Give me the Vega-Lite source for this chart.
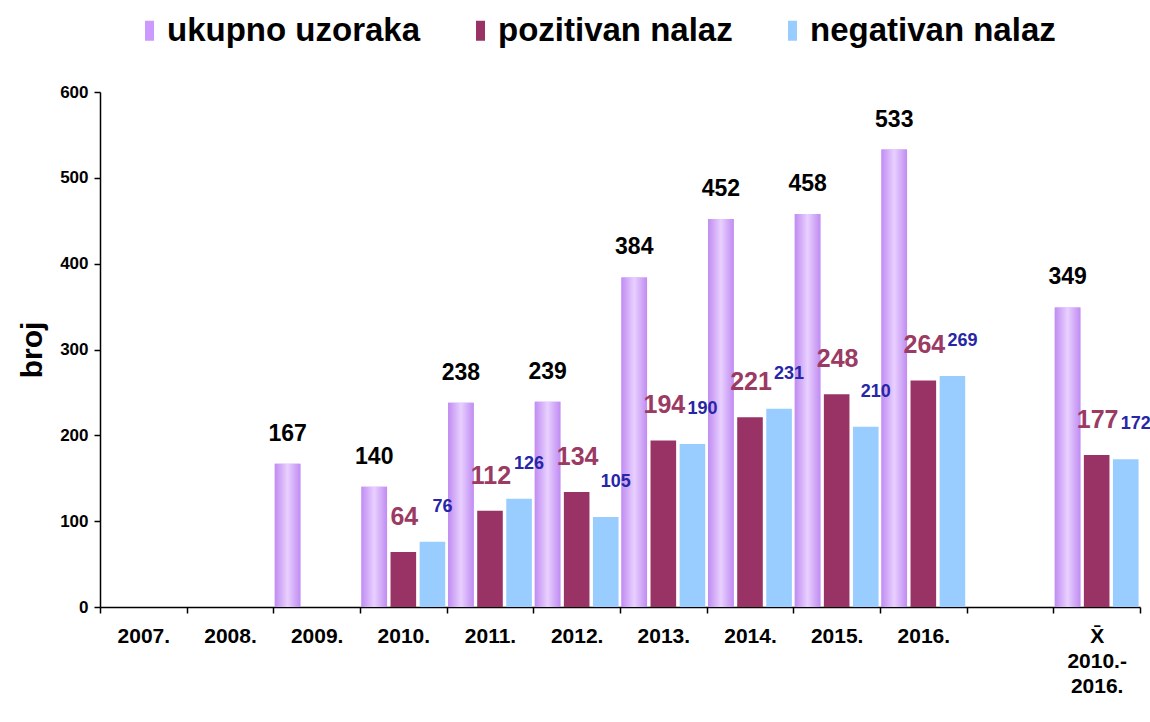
{
  "$schema": "https://vega.github.io/schema/vega-lite/v6.json",
  "width": 1040,
  "height": 515,
  "autosize": {"type": "none"},
  "padding": {"left": 100, "top": 92, "right": 10, "bottom": 115},
  "background": "white",
  "config": {"view": {"stroke": null}},
  "data": {
    "values": [
      {"godina": "2009.", "serija": "ukupno uzoraka", "broj": 167},
      {"godina": "2010.", "serija": "ukupno uzoraka", "broj": 140},
      {"godina": "2010.", "serija": "pozitivan nalaz", "broj": 64},
      {"godina": "2010.", "serija": "negativan nalaz", "broj": 76},
      {"godina": "2011.", "serija": "ukupno uzoraka", "broj": 238},
      {"godina": "2011.", "serija": "pozitivan nalaz", "broj": 112},
      {"godina": "2011.", "serija": "negativan nalaz", "broj": 126},
      {"godina": "2012.", "serija": "ukupno uzoraka", "broj": 239},
      {"godina": "2012.", "serija": "pozitivan nalaz", "broj": 134},
      {"godina": "2012.", "serija": "negativan nalaz", "broj": 105},
      {"godina": "2013.", "serija": "ukupno uzoraka", "broj": 384},
      {"godina": "2013.", "serija": "pozitivan nalaz", "broj": 194},
      {"godina": "2013.", "serija": "negativan nalaz", "broj": 190},
      {"godina": "2014.", "serija": "ukupno uzoraka", "broj": 452},
      {"godina": "2014.", "serija": "pozitivan nalaz", "broj": 221},
      {"godina": "2014.", "serija": "negativan nalaz", "broj": 231},
      {"godina": "2015.", "serija": "ukupno uzoraka", "broj": 458},
      {"godina": "2015.", "serija": "pozitivan nalaz", "broj": 248},
      {"godina": "2015.", "serija": "negativan nalaz", "broj": 210},
      {"godina": "2016.", "serija": "ukupno uzoraka", "broj": 533},
      {"godina": "2016.", "serija": "pozitivan nalaz", "broj": 264},
      {"godina": "2016.", "serija": "negativan nalaz", "broj": 269},
      {"godina": "X\u0304 2010.-2016.", "serija": "ukupno uzoraka", "broj": 349},
      {"godina": "X\u0304 2010.-2016.", "serija": "pozitivan nalaz", "broj": 177},
      {"godina": "X\u0304 2010.-2016.", "serija": "negativan nalaz", "broj": 172}
    ]
  },
  "encoding": {
    "x": {
      "field": "godina",
      "type": "nominal",
      "sort": null,
      "scale": {
        "domain": ["2007.", "2008.", "2009.", "2010.", "2011.", "2012.", "2013.", "2014.", "2015.", "2016.", " ", "X\u0304 2010.-2016."],
        "paddingInner": 0,
        "paddingOuter": 0
      },
      "axis": {
        "title": null,
        "labelAngle": 0,
        "labelFont": "Liberation Sans, Arial",
        "labelFontWeight": "bold",
        "labelFontSize": 21,
        "labelColor": "black",
        "labelPadding": 12,
        "labelLineHeight": 25,
        "labelBaseline": "top",
        "labelExpr": "datum.value == 'X\u0304 2010.-2016.' ? ['X\u0304', '2010.-', '2016.'] : (datum.value == ' ' ? '' : datum.value)",
        "tickBand": "extent",
        "tickSize": 6,
        "tickColor": "black",
        "tickWidth": 1.5,
        "domainColor": "black",
        "domainWidth": 1.5
      }
    },
    "xOffset": {
      "field": "serija",
      "type": "nominal",
      "scale": {
        "domain": ["ukupno uzoraka", "pozitivan nalaz", "negativan nalaz"],
        "paddingInner": 0.12,
        "paddingOuter": 0.05
      }
    },
    "y": {
      "field": "broj",
      "type": "quantitative",
      "scale": {"domain": [0, 600], "nice": false},
      "axis": {
        "title": "broj",
        "titleFont": "Liberation Sans, Arial",
        "titleFontSize": 30,
        "titleFontWeight": "bold",
        "titleColor": "black",
        "titlePadding": 12,
        "values": [0, 100, 200, 300, 400, 500, 600],
        "grid": false,
        "labelFont": "Liberation Sans, Arial",
        "labelFontWeight": "bold",
        "labelFontSize": 17,
        "labelColor": "black",
        "labelPadding": 6,
        "tickSize": 6,
        "tickColor": "black",
        "tickWidth": 1.5,
        "domainColor": "black",
        "domainWidth": 1.5
      }
    }
  },
  "layer": [
    {
      "mark": {"type": "bar"},
      "encoding": {
        "color": {
          "field": "serija",
          "type": "nominal",
          "scale": {
            "domain": ["ukupno uzoraka", "pozitivan nalaz", "negativan nalaz"],
            "range": ["#cc99ff", "#993366", "#99ccff"]
          },
          "legend": {
            "title": null,
            "orient": "none",
            "direction": "horizontal",
            "legendX": 33,
            "legendY": -78,
            "padding": 0,
            "symbolType": "M-0.45,-1H0.45V1H-0.45Z",
            "symbolSize": 400,
            "symbolStrokeWidth": 0,
            "symbolOpacity": 1,
            "labelFont": "Liberation Sans, Arial",
            "labelFontWeight": "bold",
            "labelFontSize": 33,
            "labelColor": "black",
            "labelOffset": 1,
            "columnPadding": 43,
            "labelLimit": 400
          }
        }
      }
    },
    {
      "transform": [{"filter": "datum.serija == 'ukupno uzoraka'"}],
      "mark": {
        "type": "bar",
        "fill": {
          "gradient": "linear",
          "x1": 0, "y1": 0, "x2": 1, "y2": 0,
          "stops": [
            {"offset": 0, "color": "#c08cf2"},
            {"offset": 0.5, "color": "#e8d0ff"},
            {"offset": 1, "color": "#c08cf2"}
          ]
        }
      }
    },
    {
      "transform": [{"filter": "datum.serija == 'ukupno uzoraka'"}],
      "mark": {
        "type": "text",
        "baseline": "bottom",
        "dy": -18,
        "font": "Liberation Sans, Arial",
        "fontWeight": "bold",
        "fontSize": 23,
        "fill": "black"
      },
      "encoding": {"text": {"field": "broj", "type": "quantitative"}}
    },
    {
      "transform": [{"filter": "datum.serija == 'pozitivan nalaz'"}],
      "mark": {
        "type": "text",
        "baseline": "bottom",
        "dy": -22,
        "dx": 1,
        "font": "Liberation Sans, Arial",
        "fontWeight": "bold",
        "fontSize": 25,
        "fill": "#9b3a62"
      },
      "encoding": {"text": {"field": "broj", "type": "quantitative"}}
    },
    {
      "transform": [{"filter": "datum.serija == 'negativan nalaz'"}],
      "mark": {
        "type": "text",
        "baseline": "bottom",
        "dy": -26,
        "dx": 10,
        "font": "Liberation Sans, Arial",
        "fontWeight": "bold",
        "fontSize": 18,
        "fill": "#2626a6"
      },
      "encoding": {"text": {"field": "broj", "type": "quantitative"}}
    }
  ]
}
